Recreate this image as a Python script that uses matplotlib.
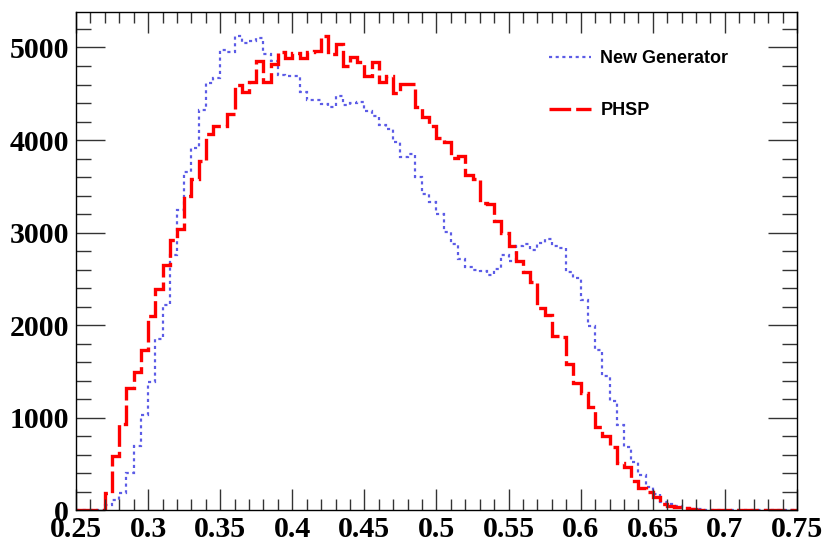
import numpy as np
import matplotlib
matplotlib.use("Agg")
import matplotlib.pyplot as plt
from matplotlib.ticker import MultipleLocator

# binning: 100 bins of 0.005 between 0.25 and 0.75
x_lo, x_hi, n_bins = 0.25, 0.75, 100

new_generator = [
    0, 0, 0, 0, 57, 111, 183, 399, 697, 1028,
    1388, 1855, 2215, 2754, 3247, 3653, 3912, 4325, 4613, 4671,
    4976, 4955, 5127, 5048, 5073, 5098, 4930, 4858, 4703, 4696,
    4696, 4516, 4437, 4437, 4390, 4354, 4473, 4383, 4401, 4408,
    4318, 4264, 4164, 4120, 3984, 3815, 3851, 3606, 3420, 3329,
    3196, 3005, 2880, 2718, 2628, 2592, 2581, 2538, 2610, 2754,
    2690, 2856, 2878, 2808, 2887, 2926, 2851, 2837, 2574, 2513,
    2276, 1988, 1729, 1451, 1183, 921, 687, 525, 381, 255,
    176, 93, 68, 46, 22, 15, 10, 8, 5, 3,
    2, 1, 1, 0, 0, 1, 0, 0, 0, 0,
]

phsp = [
    0, 0, 0, 0, 183, 586, 931, 1316, 1495, 1737,
    2096, 2387, 2653, 2923, 3042, 3394, 3574, 3779, 4066, 4156,
    4156, 4282, 4595, 4516, 4624, 4858, 4624, 4822, 4947, 4886,
    4940, 4886, 4950, 4966, 5127, 4930, 5038, 4804, 4901, 4840,
    4696, 4840, 4624, 4690, 4505, 4601, 4601, 4354, 4253, 4156,
    4024, 3984, 3808, 3833, 3617, 3574, 3318, 3304, 3124, 2995,
    2851, 2689, 2574, 2466, 2190, 2107, 1880, 1873, 1578, 1377,
    1269, 1118, 895, 801, 687, 514, 471, 320, 237, 194,
    147, 68, 46, 32, 22, 12, 8, 5, 3, 2,
    1, 1, 0, 0, 0, 0, 0, 0, 0, 0,
]

x_ticks = [0.25, 0.3, 0.35, 0.4, 0.45, 0.5, 0.55, 0.6, 0.65, 0.7, 0.75]
x_tick_labels = ["0.25", "0.3", "0.35", "0.4", "0.45", "0.5", "0.55", "0.6", "0.65", "0.7", "0.75"]
y_ticks = [0, 1000, 2000, 3000, 4000, 5000]

edges = np.linspace(x_lo, x_hi, n_bins + 1)

fig = plt.figure(figsize=(8.28, 5.43), dpi=100)
ax = fig.add_axes([76 / 828, 1 - 510.3 / 543, 721 / 828, 498.3 / 543])

ax.stairs(new_generator, edges, color="#5c5ce6", lw=1.6, ls=(0, (1.4, 1.6)), label="New Generator")
ax.stairs(phsp, edges, color="#ff0000", lw=2.4, ls=(0, (6.5, 1.5)), label="PHSP")

ax.set_xlim(x_lo, x_hi)
ax.set_ylim(0, 1.05 * max(new_generator))

ax.set_xticks(x_ticks)
ax.set_xticklabels(x_tick_labels)
ax.set_yticks(y_ticks)
ax.xaxis.set_minor_locator(MultipleLocator(0.01))
ax.yaxis.set_minor_locator(MultipleLocator(200))
ax.tick_params(which="both", direction="in", top=True, right=True, width=1, color="#333333")
ax.tick_params(axis="x", which="major", length=15, pad=4)
ax.tick_params(axis="x", which="minor", length=8)
ax.tick_params(axis="y", which="major", length=21, pad=5)
ax.tick_params(axis="y", which="minor", length=11)
for lab in ax.get_xticklabels() + ax.get_yticklabels():
    lab.set_fontfamily("Liberation Serif")
    lab.set_fontweight("bold")
    lab.set_fontsize(21.5)
for sp in ax.spines.values():
    sp.set_linewidth(1)

ax.legend(loc="upper left", bbox_to_anchor=(0.656, 0.924), frameon=False,
          borderpad=0, borderaxespad=0, handlelength=2.35, handletextpad=0.5,
          labelspacing=1.95, prop={"family": "Liberation Sans", "weight": "bold", "size": 13})

fig.savefig("out.png", dpi=100)
